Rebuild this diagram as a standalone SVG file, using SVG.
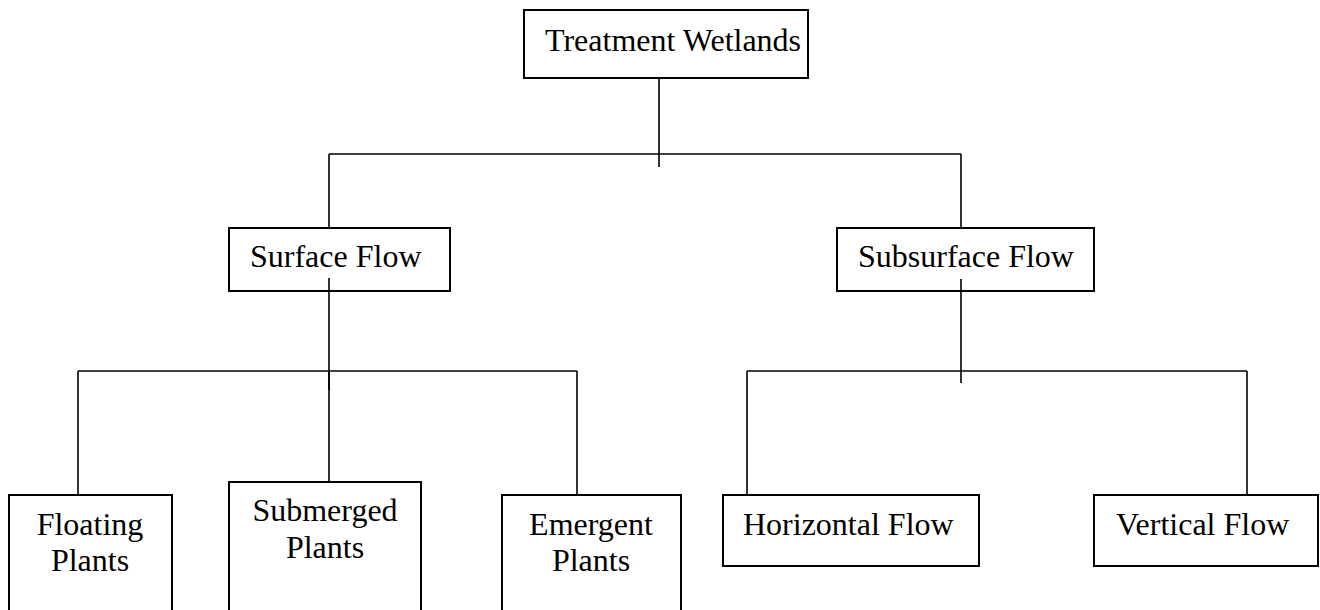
<svg xmlns="http://www.w3.org/2000/svg" width="1320" height="610" viewBox="0 0 1320 610">
<style>
.box{fill:#fff;stroke:#000;stroke-width:2}
.t{font-family:"Liberation Serif","Times New Roman",serif;font-size:32px;fill:#000}
.c{text-anchor:middle}
.conn line{stroke:#000;stroke-width:1.6}
</style>
<rect width="1320" height="610" fill="#fff"/>
<g id="treatment-wetlands"><rect class="box" x="524" y="10" width="284" height="68"/><text class="t" x="545" y="51">Treatment Wetlands</text></g>
<g id="surface-flow"><rect class="box" x="229" y="228" width="221" height="63"/><text class="t" x="250" y="267">Surface Flow</text></g>
<g id="subsurface-flow"><rect class="box" x="837" y="228" width="257" height="63"/><text class="t" x="858" y="267">Subsurface Flow</text></g>
<g id="floating-plants"><rect class="box" x="9" y="495" width="163" height="130"/><text class="t c" x="90" y="535">Floating</text><text class="t c" x="90" y="571">Plants</text></g>
<g id="submerged-plants"><rect class="box" x="229" y="482" width="192" height="140"/><text class="t c" x="325" y="521">Submerged</text><text class="t c" x="325" y="558">Plants</text></g>
<g id="emergent-plants"><rect class="box" x="502" y="495" width="179" height="130"/><text class="t c" x="591" y="535">Emergent</text><text class="t c" x="591" y="571">Plants</text></g>
<g id="horizontal-flow"><rect class="box" x="723" y="495" width="256" height="71"/><text class="t" x="743" y="535">Horizontal Flow</text></g>
<g id="vertical-flow"><rect class="box" x="1094" y="495" width="224" height="71"/><text class="t" x="1116" y="535">Vertical Flow</text></g>
<g id="connectors" class="conn">
<line x1="659" y1="78" x2="659" y2="167"/>
<line x1="329" y1="154" x2="961" y2="154"/>
<line x1="329" y1="154" x2="329" y2="228"/>
<line x1="961" y1="154" x2="961" y2="228"/>
<line x1="329" y1="278" x2="329" y2="390"/>
<line x1="78" y1="371" x2="577" y2="371"/>
<line x1="78" y1="371" x2="78" y2="495"/>
<line x1="329" y1="371" x2="329" y2="482"/>
<line x1="577" y1="371" x2="577" y2="495"/>
<line x1="961" y1="279" x2="961" y2="383"/>
<line x1="747" y1="371" x2="1247" y2="371"/>
<line x1="747" y1="371" x2="747" y2="495"/>
<line x1="1247" y1="371" x2="1247" y2="495"/>
</g>
</svg>
